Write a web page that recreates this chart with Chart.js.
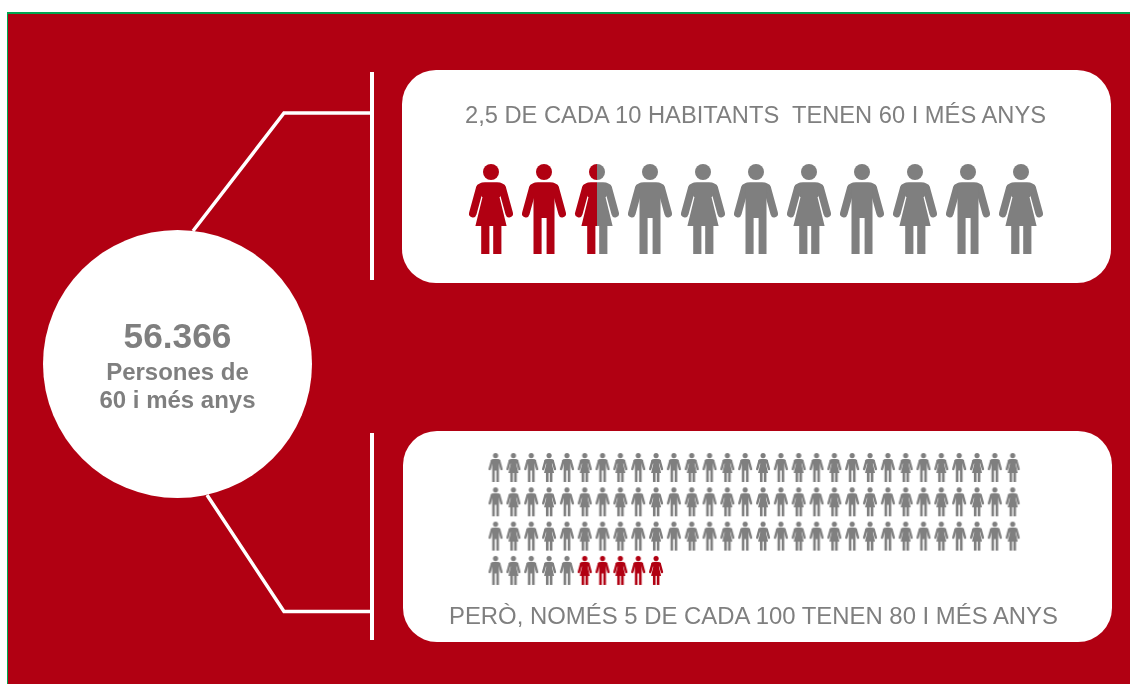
<!DOCTYPE html>
<html lang="ca">
<head>
<meta charset="UTF-8">
<title>Persones de 60 i més anys</title>
<script src="https://cdn.jsdelivr.net/npm/chart.js"></script>
<style>
body { margin: 0; width: 1130px; height: 684px; overflow: hidden; background: #fff; position: relative; font-family: "Liberation Sans", Arial, sans-serif; color: #7f7f7f; }
.bg { position: absolute; left: 7px; top: 12px; right: 0; bottom: 0; background: #b10012; border-top: 2px solid #00a650; border-left: 1px solid #00a650; box-sizing: border-box; }
.panel { position: absolute; background: #fff; border-radius: 34px; }
.top { left: 402px; top: 70px; width: 709px; height: 213px; }
.bottom { left: 403px; top: 431px; width: 709px; height: 211px; }
.circle { position: absolute; left: 43px; top: 230px; width: 269px; height: 268px; border-radius: 50%; background: #fff; }
svg { position: absolute; left: 0; top: 0; }
canvas { position: absolute; left: 0; top: 0; }
.t { position: absolute; white-space: pre; text-align: center; will-change: transform; }
.head { line-height: 26px; left: 401px; width: 709px; }
.num { font-weight: bold; font-size: 35.3px; line-height: 38px; left: 43px; width: 269px; top: 317px; }
.sub { font-weight: bold; font-size: 24px; line-height: 28px; left: 43px; width: 269px; top: 358px; }
</style>
</head>
<body>
<div class="bg"></div>
<svg width="1130" height="684">
  <polyline points="193,231 284,113 372,113" fill="none" stroke="#fff" stroke-width="3.5"/>
  <polyline points="207,495 284,611.5 372,611.5" fill="none" stroke="#fff" stroke-width="3.5"/>
  <line x1="372" y1="72" x2="372" y2="280" stroke="#fff" stroke-width="4"/>
  <line x1="372" y1="433" x2="372" y2="640" stroke="#fff" stroke-width="4"/>
</svg>
<div class="panel top"></div>
<div class="panel bottom"></div>
<div class="circle"></div>
<div class="t head" style="top:102px;font-size:23.7px">2,5 DE CADA 10 HABITANTS  TENEN 60 I MÉS ANYS</div>
<div class="t head" style="top:603px;font-size:23.9px;left:399px">PERÒ, NOMÉS 5 DE CADA 100 TENEN 80 I MÉS ANYS</div>
<div class="t num">56.366</div>
<div class="t sub">Persones de
60 i més anys</div>
<canvas id="chart" width="1130" height="684"></canvas>

<script>
// D = dona, H = home; share = part of each figure painted red
const topSexes = ['D','H','D','H','D','H','D','H','D','H','D'];
const topRedShare = [1,1,0.5,0,0,0,0,0,0,0,0];

const bottomRow1 = [0,0,0,0,0,0,0,0,0,0,0,0,0,0,0,0,0,0,0,0,0,0,0,0,0,0,0,0,0,0];
const bottomRow2 = [0,0,0,0,0,0,0,0,0,0,0,0,0,0,0,0,0,0,0,0,0,0,0,0,0,0,0,0,0,0];
const bottomRow3 = [0,0,0,0,0,0,0,0,0,0,0,0,0,0,0,0,0,0,0,0,0,0,0,0,0,0,0,0,0,0];
const bottomRow4 = [0,0,0,0,0,1,1,1,1,1];
const bottomRows = [bottomRow1, bottomRow2, bottomRow3, bottomRow4];

const RED = '#b10012';
const GREY = '#7f7f7f';

function tracePerson(ctx, sex) {
    ctx.beginPath();
    ctx.arc(22, 8, 8, 0, Math.PI * 2);
    ctx.fill();
    ctx.lineCap = 'round';
    ctx.lineJoin = 'round';
    ctx.lineWidth = 7.6;
    ctx.beginPath();
    ctx.moveTo(10.8, 24); ctx.lineTo(3.8, 49.5);
    ctx.moveTo(33.2, 24); ctx.lineTo(40.2, 49.5);
    ctx.stroke();
    // rounded shoulders, joining arms to the body
    ctx.beginPath();
    ctx.moveTo(16, 18.3);
    ctx.quadraticCurveTo(9.5, 18.3, 7.2, 23.5);
    ctx.lineTo(13, 33);
    ctx.lineTo(31, 33);
    ctx.lineTo(36.8, 23.5);
    ctx.quadraticCurveTo(34.5, 18.3, 28, 18.3);
    ctx.closePath();
    ctx.fill();
    ctx.beginPath();
    if (sex === 'H') {
        ctx.moveTo(11.5, 20);
        ctx.lineTo(32.5, 20);
        ctx.lineTo(32.5, 90);
        ctx.lineTo(24.6, 90);
        ctx.lineTo(24.6, 54);
        ctx.lineTo(19.6, 54);
        ctx.lineTo(19.6, 90);
        ctx.lineTo(11.5, 90);
    } else {
        ctx.moveTo(13, 20);
        ctx.lineTo(31, 20);
        ctx.lineTo(30, 31);
        ctx.lineTo(37.6, 62);
        ctx.lineTo(32.4, 62);
        ctx.lineTo(32.4, 90);
        ctx.lineTo(24.2, 90);
        ctx.lineTo(24.2, 62);
        ctx.lineTo(20.4, 62);
        ctx.lineTo(20.4, 90);
        ctx.lineTo(12.2, 90);
        ctx.lineTo(12.2, 62);
        ctx.lineTo(6.4, 62);
        ctx.lineTo(14, 31);
    }
    ctx.closePath();
    ctx.fill();
}

function personIcon(sex, redShare, height, blur) {
    const scale = height / 90;
    const c = document.createElement('canvas');
    c.width = Math.ceil(44 * scale) + 2;
    c.height = Math.ceil(height) + 2;
    const ctx = c.getContext('2d');
    ctx.filter = 'blur(' + blur + 'px)';
    function part(colour, x0, x1) {
        ctx.save();
        ctx.beginPath();
        ctx.rect(x0, 0, x1 - x0, c.height);
        ctx.clip();
        ctx.translate(1, 1);
        ctx.scale(scale, scale);
        ctx.fillStyle = colour;
        ctx.strokeStyle = colour;
        tracePerson(ctx, sex);
        ctx.restore();
    }
    const split = c.width * redShare;
    if (redShare < 1) part(GREY, split, c.width);
    if (redShare > 0) part(RED, 0, split);
    return c;
}

const topPoints = topRedShare.map((s, i) => ({ x: i, y: 0 }));
const topStyles = topRedShare.map((s, i) => personIcon(topSexes[i], s, 90, 0.4));

const bottomPoints = [];
const bottomStyles = [];
bottomRows.forEach((row, r) => {
    row.forEach((s, i) => {
        bottomPoints.push({ x: i, y: r });
        bottomStyles.push(personIcon(i % 2 ? 'D' : 'H', s, 29, 0.5));
    });
});

// scales are laid out so the canvas (1130x684) is the plot area
const hidden = { display: false, type: 'linear' };
new Chart(document.getElementById('chart'), {
    type: 'scatter',
    data: {
        datasets: [
            { data: topPoints, xAxisID: 'xTop', yAxisID: 'yTop', pointStyle: topStyles },
            { data: bottomPoints, xAxisID: 'xBottom', yAxisID: 'yBottom', pointStyle: bottomStyles }
        ]
    },
    options: {
        responsive: false,
        animation: false,
        layout: { padding: 0, autoPadding: false },
        plugins: { legend: { display: false }, tooltip: { enabled: false } },
        scales: {
            xTop: { ...hidden, min: -491 / 53, max: (1130 - 491) / 53 },
            yTop: { ...hidden, min: -(684 - 209) / 100, max: 209 / 100 },
            xBottom: { ...hidden, min: -496 / 17.83, max: (1130 - 496) / 17.83 },
            yBottom: { ...hidden, reverse: true, min: -467.5 / 34.3, max: (684 - 467.5) / 34.3 }
        }
    }
});
</script>
</body>
</html>
